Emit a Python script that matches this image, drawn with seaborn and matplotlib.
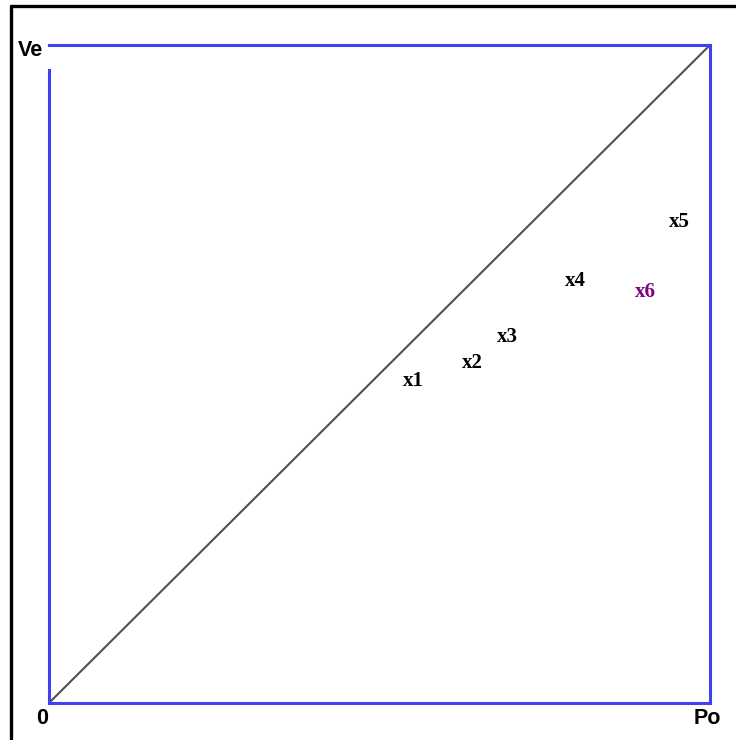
import matplotlib
matplotlib.use("Agg")
import matplotlib.pyplot as plt
from matplotlib.lines import Line2D
from matplotlib.patches import Rectangle
import seaborn as sns

# point labels and where they sit (fractions of the Po / Ve axes)
labels = ["x1", "x2", "x3", "x4", "x5", "x6"]
po_vals = [0.551, 0.641, 0.693, 0.796, 0.953, 0.902]
ve_vals = [0.490, 0.516, 0.556, 0.642, 0.731, 0.625]
label_colors = ["black", "black", "black", "black", "black", "#800080"]

# equal line from origin to the top right corner
diag_x = [0, 1]
diag_y = [0, 1]

sns.set_theme(style="white")

W, H = 736, 740
fig = plt.figure(figsize=(W / 100, H / 100), dpi=100)
ax = fig.add_axes([49 / W, (H - 703) / H, 661 / W, 658 / H])
ax.set_xlim(0, 1)
ax.set_ylim(0, 1)
ax.set_xticks([])
ax.set_yticks([])
ax.set_facecolor("white")

for side in ["left", "right", "top", "bottom"]:
    ax.spines[side].set_visible(True)
    ax.spines[side].set_color("#4040f4")
    ax.spines[side].set_linewidth(2.2)
    ax.spines[side].set_capstyle("projecting")

sns.lineplot(x=diag_x, y=diag_y, ax=ax, color="#505050", linewidth=1.5)

for lab, px, vy, c in zip(labels, po_vals, ve_vals, label_colors):
    ax.text(px, vy, lab, color=c, fontsize=15, fontweight="bold",
            family=["Liberation Serif", "DejaVu Serif"],
            ha="center", va="center")

# small white gap on the left edge under the Ve label
ax.add_patch(Rectangle((-0.004, 0.963), 0.008, 0.034, transform=ax.transAxes,
                       facecolor="white", edgecolor="none", clip_on=False, zorder=5))

sans = ["Liberation Sans", "DejaVu Sans"]
fig.text(30 / W, 1 - 50 / H, "Ve", fontsize=15.5, fontweight="bold", family=sans,
         color="black", ha="center", va="center")
fig.text(42 / W, 1 - 718 / H, "0", fontsize=15.5, fontweight="bold", family=sans,
         color="black", ha="center", va="center")
fig.text(707 / W, 1 - 718 / H, "Po", fontsize=15.5, fontweight="bold", family=sans,
         color="black", ha="center", va="center")

# black frame along the top and left of the picture
fig.add_artist(Line2D([11 / W, 11 / W], [0, 1 - 6 / H], color="black", linewidth=2.4,
                      transform=fig.transFigure))
fig.add_artist(Line2D([11 / W, 1], [1 - 6 / H, 1 - 6 / H], color="black", linewidth=2.4,
                      transform=fig.transFigure))

fig.savefig("out.png", dpi=100, facecolor="white")
